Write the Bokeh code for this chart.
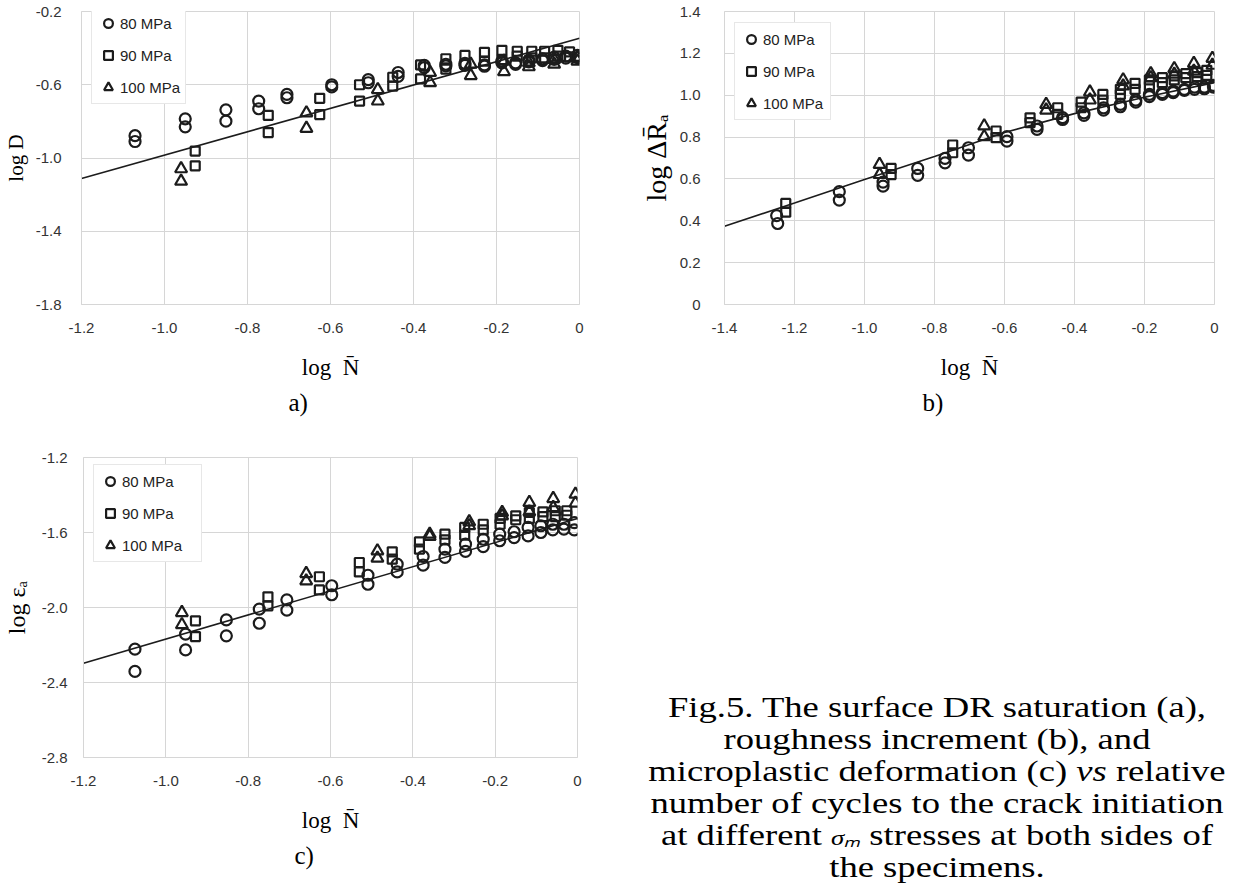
from bokeh.plotting import figure
from bokeh.models import Range1d, FixedTicker, Legend, LegendItem, Div, Title
from bokeh.layouts import row, column
from bokeh.embed import file_html
from bokeh.resources import INLINE

# ---------------- data ----------------
# panel a : log D vs log N
a80_x = [-1.071,-1.071,-0.950,-0.950,-0.852,-0.852,-0.773,-0.773,-0.705,-0.705,-0.597,-0.597,-0.509,-0.509,-0.437,-0.437,-0.374,-0.374,-0.322,-0.322,-0.276,-0.276,-0.229,-0.229,-0.187,-0.187,-0.154,-0.154,-0.122,-0.122,-0.089,-0.089,-0.061,-0.061,-0.033,-0.033,-0.005,-0.005]
a80_y = [-0.878,-0.910,-0.786,-0.830,-0.737,-0.799,-0.689,-0.731,-0.653,-0.671,-0.600,-0.612,-0.572,-0.589,-0.533,-0.554,-0.494,-0.506,-0.488,-0.497,-0.483,-0.494,-0.492,-0.499,-0.471,-0.480,-0.480,-0.489,-0.465,-0.475,-0.458,-0.468,-0.449,-0.461,-0.444,-0.455,-0.440,-0.452]
a90_x = [-0.926,-0.926,-0.750,-0.750,-0.626,-0.626,-0.530,-0.530,-0.450,-0.450,-0.383,-0.383,-0.322,-0.322,-0.276,-0.276,-0.229,-0.229,-0.187,-0.187,-0.150,-0.150,-0.115,-0.115,-0.084,-0.084,-0.052,-0.052,-0.024,-0.024]
a90_y = [-0.962,-1.043,-0.767,-0.861,-0.674,-0.763,-0.600,-0.689,-0.559,-0.607,-0.492,-0.568,-0.458,-0.515,-0.440,-0.488,-0.423,-0.471,-0.412,-0.462,-0.417,-0.444,-0.417,-0.453,-0.417,-0.453,-0.412,-0.444,-0.420,-0.447]
a100_x = [-0.960,-0.960,-0.658,-0.658,-0.486,-0.486,-0.360,-0.360,-0.262,-0.262,-0.182,-0.182,-0.122,-0.122,-0.061,-0.061,-0.005,-0.005]
a100_y = [-1.059,-1.127,-0.754,-0.838,-0.627,-0.689,-0.533,-0.589,-0.488,-0.550,-0.471,-0.529,-0.480,-0.502,-0.462,-0.488,-0.453,-0.471]
a_fit_x = [-1.2, 0.0]
a_fit_y = [-1.112, -0.346]

# panel b : log dRa vs log N
b80_x = [-1.251,-1.248,-1.072,-1.072,-0.947,-0.947,-0.848,-0.848,-0.770,-0.770,-0.703,-0.703,-0.593,-0.593,-0.507,-0.507,-0.434,-0.434,-0.373,-0.373,-0.317,-0.317,-0.269,-0.269,-0.225,-0.225,-0.186,-0.186,-0.149,-0.149,-0.118,-0.118,-0.086,-0.086,-0.057,-0.057,-0.029,-0.029,-0.003,-0.003]
b80_y = [0.425,0.387,0.539,0.499,0.585,0.566,0.650,0.617,0.698,0.677,0.749,0.714,0.802,0.781,0.853,0.837,0.884,0.893,0.916,0.904,0.940,0.929,0.956,0.945,0.977,0.967,1.004,0.993,1.012,1.004,1.020,1.012,1.028,1.023,1.039,1.028,1.039,1.031,1.047,1.039]
b90_x = [-1.225,-1.225,-0.924,-0.924,-0.748,-0.748,-0.624,-0.624,-0.527,-0.527,-0.448,-0.448,-0.381,-0.381,-0.319,-0.319,-0.269,-0.269,-0.227,-0.227,-0.186,-0.186,-0.149,-0.149,-0.115,-0.115,-0.082,-0.082,-0.050,-0.050,-0.022,-0.022]
b90_y = [0.483,0.441,0.650,0.621,0.762,0.725,0.829,0.797,0.892,0.869,0.940,0.908,0.967,0.940,1.004,0.977,1.028,1.004,1.057,1.028,1.073,1.044,1.084,1.060,1.092,1.073,1.103,1.084,1.108,1.089,1.119,1.095]
b100_x = [-0.957,-0.957,-0.658,-0.658,-0.481,-0.481,-0.356,-0.356,-0.261,-0.261,-0.182,-0.182,-0.115,-0.115,-0.059,-0.059,-0.006,-0.006]
b100_y = [0.669,0.621,0.853,0.802,0.956,0.929,1.015,0.977,1.073,1.044,1.103,1.084,1.127,1.100,1.152,1.115,1.176,1.143]
b_fit_x = [-1.4, -1.2, -1.0, -0.8, -0.6, -0.4, -0.2, 0.0]
b_fit_y = [0.374, 0.485, 0.597, 0.707, 0.822, 0.912, 0.990, 1.060]

# panel c : log eps_a vs log N
c80_x = [-1.075,-1.075,-0.952,-0.952,-0.853,-0.853,-0.773,-0.773,-0.706,-0.706,-0.597,-0.597,-0.509,-0.509,-0.438,-0.438,-0.375,-0.375,-0.322,-0.322,-0.272,-0.272,-0.229,-0.229,-0.189,-0.189,-0.154,-0.154,-0.120,-0.120,-0.089,-0.089,-0.060,-0.060,-0.033,-0.033,-0.008,-0.008]
c80_y = [-2.222,-2.341,-2.142,-2.226,-2.066,-2.151,-2.009,-2.084,-1.959,-2.014,-1.884,-1.932,-1.828,-1.876,-1.769,-1.810,-1.728,-1.774,-1.689,-1.733,-1.662,-1.701,-1.636,-1.675,-1.609,-1.644,-1.596,-1.627,-1.573,-1.618,-1.564,-1.600,-1.556,-1.586,-1.556,-1.582,-1.547,-1.586]
c90_x = [-0.928,-0.928,-0.752,-0.752,-0.627,-0.627,-0.530,-0.530,-0.450,-0.450,-0.384,-0.384,-0.322,-0.322,-0.274,-0.274,-0.229,-0.229,-0.188,-0.188,-0.150,-0.150,-0.117,-0.117,-0.084,-0.084,-0.054,-0.054,-0.026,-0.026]
c90_y = [-2.071,-2.155,-1.943,-1.991,-1.836,-1.906,-1.760,-1.810,-1.703,-1.742,-1.650,-1.689,-1.609,-1.639,-1.573,-1.614,-1.556,-1.586,-1.525,-1.556,-1.511,-1.532,-1.493,-1.525,-1.490,-1.515,-1.484,-1.515,-1.484,-1.508]
c100_x = [-0.961,-0.961,-0.659,-0.659,-0.486,-0.486,-0.359,-0.359,-0.263,-0.263,-0.183,-0.183,-0.117,-0.117,-0.059,-0.059,-0.005,-0.005]
c100_y = [-2.027,-2.092,-1.819,-1.858,-1.698,-1.737,-1.609,-1.621,-1.543,-1.564,-1.493,-1.511,-1.440,-1.490,-1.419,-1.467,-1.396,-1.444]
c_fit_x = [-1.2, 0.0]
c_fit_y = [-2.297, -1.525]

series_labels = ["80 MPa", "90 MPa", "100 MPa"]

a_xticks = [-1.2, -1.0, -0.8, -0.6, -0.4, -0.2, 0.0]
a_xlabels = ["-1.2", "-1.0", "-0.8", "-0.6", "-0.4", "-0.2", "0"]
a_yticks = [-1.8, -1.4, -1.0, -0.6, -0.2]
a_ylabels = ["-1.8", "-1.4", "-1.0", "-0.6", "-0.2"]
b_xticks = [-1.4, -1.2, -1.0, -0.8, -0.6, -0.4, -0.2, 0.0]
b_xlabels = ["-1.4", "-1.2", "-1.0", "-0.8", "-0.6", "-0.4", "-0.2", "0"]
b_yticks = [0.0, 0.2, 0.4, 0.6, 0.8, 1.0, 1.2, 1.4]
b_ylabels = ["0", "0.2", "0.4", "0.6", "0.8", "1.0", "1.2", "1.4"]
c_xticks = a_xticks
c_xlabels = a_xlabels
c_yticks = [-2.8, -2.4, -2.0, -1.6, -1.2]
c_ylabels = ["-2.8", "-2.4", "-2.0", "-1.6", "-1.2"]

x_title = "log\u00a0 N\u0304"
a_ytitle = "log D"
b_ytitle = "log \u0394R\u0304\u2090"
c_ytitle = "log \u03b5\u2090"

SIGMA_M = '<i style="font-size:22px;">\u03c3\u2098</i>'
caption_lines = [
    "Fig.5. The surface DR saturation (a),",
    "roughness increment (b), and",
    "microplastic deformation (c) <i>vs</i> relative",
    "number of cycles to the crack initiation",
    "at different " + SIGMA_M + " stresses at both sides of",
    "the specimens.",
]

# ---------------- styling / layout ----------------
INK = "#1c1c1c"
GRID = "#d6d6d6"
SERIF = "Liberation Serif"
SANS = "Liberation Sans"


def make_panel(canvas, frame, xr, yr, xt, xl, yt, yl, series, fit, legend_top,
               label_w, ytitle, ytitle_size, ylab_standoff, ytitle_standoff, tag, tag_center):
    cx, cy, cw, ch = canvas
    fl, ft, fw, fh = frame
    mbl = fl - cx
    mbt = ft - cy
    mbr = cw - mbl - fw
    mbb = ch - mbt - fh
    p = figure(width=cw, height=ch, x_range=Range1d(*xr), y_range=Range1d(*yr),
               output_backend="svg", toolbar_location=None, title=None,
               min_border_left=mbl, min_border_right=mbr,
               min_border_top=mbt, min_border_bottom=mbb)
    p.background_fill_color = "white"
    p.border_fill_color = "white"
    p.outline_line_color = GRID
    for ax, ticks, labels in ((p.xaxis[0], xt, xl), (p.yaxis[0], yt, yl)):
        ax.ticker = FixedTicker(ticks=ticks)
        ax.major_label_overrides = {t: s for t, s in zip(ticks, labels)}
        ax.axis_line_color = GRID
        ax.major_tick_line_color = None
        ax.minor_tick_line_color = None
        ax.major_label_text_font = SANS
        ax.major_label_text_font_size = "15px"
        ax.major_label_text_color = "#333333"
        ax.axis_label_text_font = SERIF
        ax.axis_label_text_font_style = "normal"
        ax.axis_label_text_color = "black"
    p.xaxis.major_label_standoff = 12
    p.yaxis.major_label_standoff = ylab_standoff
    p.xaxis.axis_label = x_title
    p.xaxis.axis_label_text_font_size = "23px"
    p.xaxis.axis_label_standoff = 19
    p.yaxis.axis_label = ytitle
    p.yaxis.axis_label_text_font_size = f"{ytitle_size}px"
    p.yaxis.axis_label_standoff = ytitle_standoff
    p.xgrid.ticker = FixedTicker(ticks=xt)
    p.ygrid.ticker = FixedTicker(ticks=yt)
    p.xgrid.grid_line_color = GRID
    p.ygrid.grid_line_color = GRID

    fx, fy = fit
    p.line(fx, fy, line_color=INK, line_width=1.6)

    markers = [("circle", 11), ("square", 9), ("triangle", 12)]
    rends = []
    for (sx, sy), (mk, sz) in zip(series, markers):
        r = p.scatter(sx, sy, marker=mk, size=sz, fill_alpha=0,
                      line_color=INK, line_width=2.2)
        rends.append(r)
    items = [LegendItem(label=lab, renderers=[r]) for lab, r in zip(series_labels, rends)]
    leg_h = 3 * 22 + 2 * 10 + 2 * 5
    leg = Legend(items=items, location=(10, fh - legend_top - leg_h), orientation="vertical",
                 border_line_color="#cfcfcf", border_line_width=1,
                 background_fill_color="white", background_fill_alpha=1,
                 label_text_font=SANS, label_text_font_size="15px",
                 label_text_color="#222222", glyph_width=22, glyph_height=22,
                 label_height=22, label_width=label_w, spacing=10, padding=5,
                 margin=0, label_standoff=1)
    p.add_layout(leg)

    t = Title(text=tag, align="left", offset=tag_center - fl - 10, standoff=9,
              text_font=SERIF, text_font_size="25px", text_font_style="normal",
              text_color="black")
    p.add_layout(t, "below")
    return p


pa = make_panel((8, 8, 612, 432), (80, 13, 507, 304), (-1.2, 0.0), (-1.8, -0.2),
                a_xticks, a_xlabels, a_yticks, a_ylabels,
                [(a80_x, a80_y), (a90_x, a90_y), (a100_x, a100_y)],
                (a_fit_x, a_fit_y), 8, 58, a_ytitle, 21, 14, 5, "a)", 297)
pb = make_panel((620, 8, 612, 432), (732, 19, 490, 293), (-1.4, 0.0), (0.0, 1.4),
                b_xticks, b_xlabels, b_yticks, b_ylabels,
                [(b80_x, b80_y), (b90_x, b90_y), (b100_x, b100_y)],
                (b_fit_x, b_fit_y), 13, 62, b_ytitle, 28, 18, 5, "b)", 940)
pc = make_panel((8, 440, 612, 445), (79, 465, 506, 300), (-1.2, 0.0), (-2.8, -1.2),
                c_xticks, c_xlabels, c_yticks, c_ylabels,
                [(c80_x, c80_y), (c90_x, c90_y), (c100_x, c100_y)],
                (c_fit_x, c_fit_y), 9, 74, c_ytitle, 24, 10, 9, "c)", 300)

caption_html = (
    '<div style="width:612px;height:445px;position:relative;background:white;">'
    '<div style="position:absolute;left:60px;top:254px;width:520px;text-align:center;'
    'white-space:nowrap;transform:scaleX(1.22);transform-origin:50% 0;'
    'font-family:\'Liberation Serif\';font-size:30px;line-height:32px;color:#000;">'
    + "".join(f'<div style="height:32px;line-height:32px;">{ln}</div>' for ln in caption_lines) +
    '</div></div>'
)
cap = Div(text=caption_html, width=612, height=445)

layout = column(row(pa, pb), row(pc, cap))
open("out.html", "w").write(file_html(layout, INLINE))
